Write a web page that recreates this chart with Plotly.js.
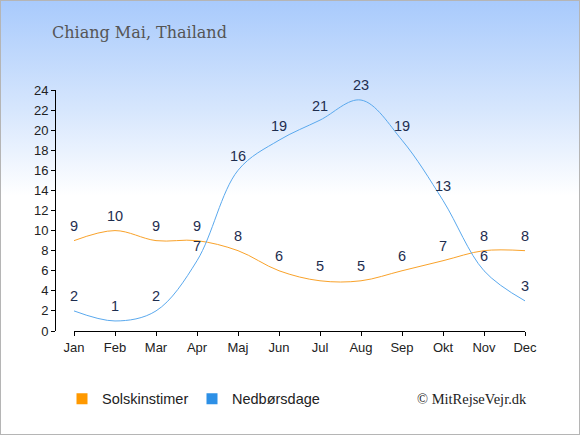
<!DOCTYPE html>
<html>
<head>
<meta charset="utf-8">
<script src="https://cdn.plot.ly/plotly-3.0.1.min.js"></script>
<style>
  html, body { margin: 0; padding: 0; }
  #wrap { position: relative; width: 580px; height: 435px;
    background: linear-gradient(to bottom, #a8cafc 0%, #d6e6fd 25%, #ffffff 45%, #ffffff 100%); }
  #plot { position: absolute; left: 0; top: 0; width: 580px; height: 435px; }
  #frame { position: absolute; left: 0; top: 0; width: 580px; height: 435px; box-sizing: border-box;
    border: 1px solid #b5b5b5; pointer-events: none; }
</style>
</head>
<body>
<div id="wrap"><div id="plot"></div><div id="frame"></div></div>
<script>
const months = ["Jan","Feb","Mar","Apr","Maj","Jun","Jul","Aug","Sep","Okt","Nov","Dec"];
const sunHours = [9,10,9,9,8,6,5,5,6,7,8,8];
const rainDays = [2,1,2,7,16,19,21,23,19,13,6,3];
const seriesNames = ["Solskinstimer","Nedbørsdage"];
const titleText = "Chiang Mai, Thailand";
const creditText = "© MitRejseVejr.dk";

const orange = "#f9a22a", blue = "#5aa9ee";
const orangeLegend = "#ff9900", blueLegend = "#2d90e6";
const labelFont = {family: "Liberation Sans, Arial, sans-serif", size: 14.5, color: "#1e2d4f"};
const hiddenMarker = {size: 8, color: "rgba(0,0,0,0)"};

const traces = [
  {x: months, y: sunHours, mode: "lines+markers+text", text: sunHours.map(String), textposition: "top center",
   textfont: labelFont, marker: hiddenMarker, line: {color: orange, width: 1, shape: "spline", smoothing: 1},
   cliponaxis: false, showlegend: false, hoverinfo: "skip"},
  {x: months, y: rainDays, mode: "lines+markers+text", text: rainDays.map(String), textposition: "top center",
   textfont: labelFont, marker: hiddenMarker, line: {color: blue, width: 1, shape: "spline", smoothing: 1},
   cliponaxis: false, showlegend: false, hoverinfo: "skip"},
  {x: [null], y: [null], mode: "markers", name: seriesNames[0],
   marker: {symbol: "square", size: 11, color: orangeLegend}},
  {x: [null], y: [null], mode: "markers", name: seriesNames[1],
   marker: {symbol: "square", size: 11, color: blueLegend}}
];

const tickFont = {family: "Liberation Sans, Arial, sans-serif", size: 13, color: "#222"};

const layout = {
  width: 580, height: 435,
  margin: {l: 55, r: 55, t: 90, b: 94},
  paper_bgcolor: "rgba(0,0,0,0)", plot_bgcolor: "rgba(0,0,0,0)",
  title: {text: titleText, xref: "container", yref: "container", x: 52/580, xanchor: "left",
          y: 1 - 32/435, yanchor: "middle",
          font: {family: "DejaVu Serif, serif", size: 16, color: "#555"}},
  xaxis: {type: "category", range: [0, 11], domain: [19/470, 1], showline: true, linecolor: "#000",
          linewidth: 1, ticks: "outside", ticklen: 4, tickcolor: "#000", showgrid: false, zeroline: false,
          tickfont: tickFont, fixedrange: true},
  yaxis: {range: [0, 24], dtick: 2, domain: [10/251, 1], anchor: "free", position: 0,
          showline: true, linecolor: "#000", linewidth: 1, ticks: "outside", ticklen: 4, tickcolor: "#000",
          showgrid: false, zeroline: false, tickfont: tickFont, fixedrange: true},
  showlegend: true,
  legend: {orientation: "h", x: (62 - 55) / 470, xanchor: "left", y: -0.23, yanchor: "middle",
           entrywidth: 85, entrywidthmode: "pixels",
           font: {family: "Liberation Sans, Arial, sans-serif", size: 14.5, color: "#222"},
           bgcolor: "rgba(0,0,0,0)"},
  annotations: [{text: creditText, xref: "paper", yref: "paper", x: (529 - 55) / 470, xanchor: "right",
                 y: -0.23, yanchor: "middle", showarrow: false,
                 font: {family: "Liberation Serif, serif", size: 14.5, color: "#222"}}]
};

Plotly.newPlot("plot", traces, layout, {displayModeBar: false, staticPlot: true});
</script>
</body>
</html>
